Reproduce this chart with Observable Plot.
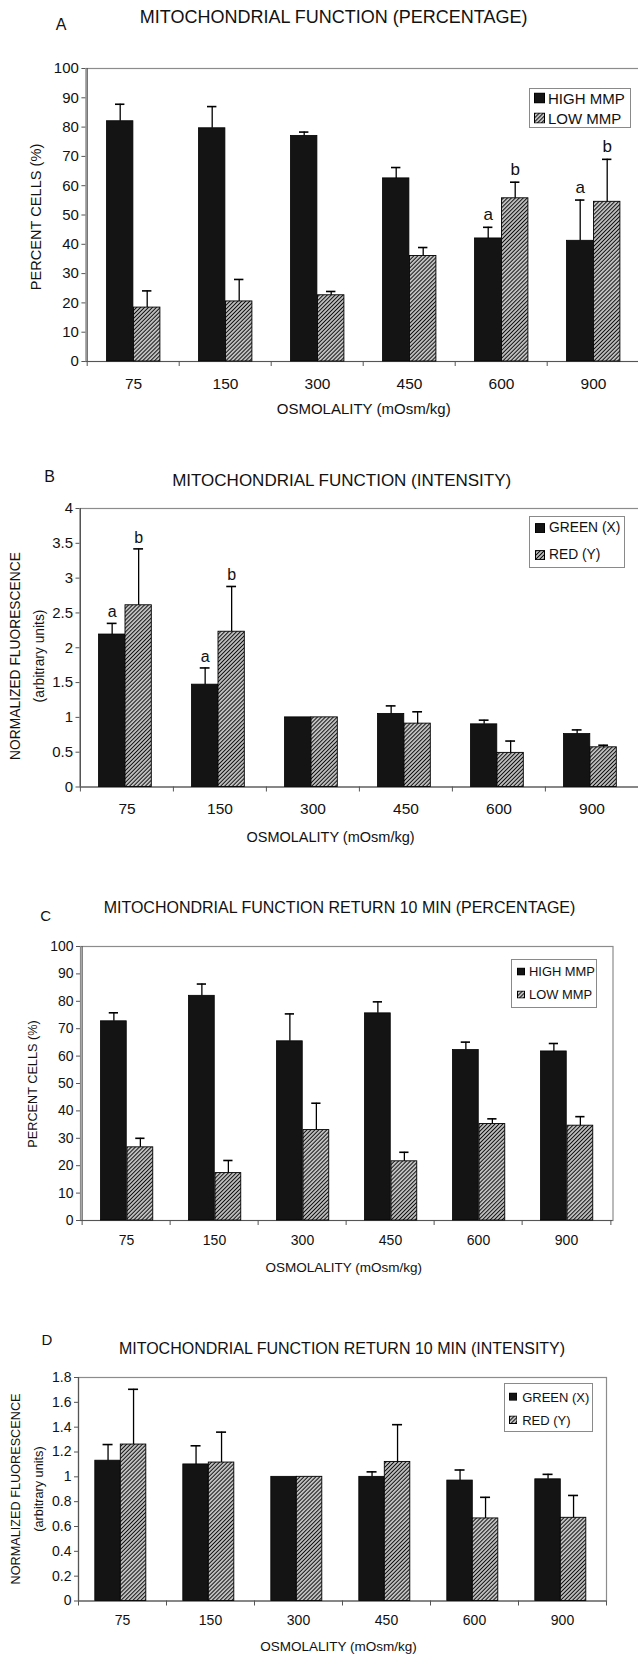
<!DOCTYPE html>
<html><head><meta charset="utf-8">
<script src="https://cdn.jsdelivr.net/npm/d3@7"></script>
<script src="https://cdn.jsdelivr.net/npm/@observablehq/plot@0.6"></script>
<style>
html,body{margin:0;padding:0;background:#fff;}
#page{position:relative;width:638px;height:1654px;overflow:hidden;background:#fff;font-family:"Liberation Sans",Arial,sans-serif;color:#111;}
.t{position:absolute;white-space:nowrap;line-height:1;transform:translate(-50%,-50%);}
.yt{position:absolute;white-space:nowrap;line-height:1;transform:translate(-50%,-50%) rotate(-90deg);}
.legend{position:absolute;border:1px solid #8a8a8a;background:#fff;box-sizing:border-box;}
.li{position:absolute;display:flex;align-items:center;white-space:nowrap;line-height:1;transform:translateY(-50%);}
.li svg{display:block;flex:none;}
</style></head><body>
<svg width="0" height="0" style="position:absolute">
  <defs>
    <pattern id="hatch" patternUnits="userSpaceOnUse" width="2.8" height="2.8" patternTransform="rotate(45)">
      <rect width="2.8" height="2.8" fill="#fff"/>
      <line x1="1.4" y1="0" x2="1.4" y2="2.8" stroke="#111" stroke-width="1.45"/>
    </pattern>
  </defs>
</svg>
<div id="page"></div>
<script>
// ---------- DATA ----------
const osmolality = ["75", "150", "300", "450", "600", "900"];

// Panel A: mitochondrial function (percentage)
const aHigh    = [82.0, 79.6, 77.0, 62.5, 42.0, 41.2];
const aHighErr = [87.8, 87.0, 78.3, 66.2, 45.8, 55.1];
const aLow     = [18.4, 20.5, 22.6, 36.0, 55.7, 54.5];
const aLowErr  = [24.1, 28.0, 23.9, 38.9, 61.2, 69.0];
const aHighSig = ["", "", "", "", "a", "a"];
const aLowSig  = ["", "", "", "", "b", "b"];

// Panel B: mitochondrial function (intensity)
const bGreen    = [2.19, 1.47, 1.00, 1.05, 0.90, 0.76];
const bGreenErr = [2.35, 1.71, null, 1.165, 0.96, 0.82];
const bRed      = [2.61, 2.23, 1.00, 0.91, 0.49, 0.57];
const bRedErr   = [3.42, 2.88, null, 1.08, 0.66, 0.60];
const bGreenSig = ["a", "a", "", "", "", ""];
const bRedSig   = ["b", "b", "", "", "", ""];

// Panel C: return 10 min (percentage)
const cHigh    = [72.7, 82.0, 65.4, 75.6, 62.2, 61.7];
const cHighErr = [75.8, 86.3, 75.4, 79.8, 65.1, 64.6];
const cLow     = [26.7, 17.3, 33.0, 21.6, 35.2, 34.6];
const cLowErr  = [30.0, 21.9, 42.8, 24.9, 37.1, 37.9];

// Panel D: return 10 min (intensity)
const dGreen    = [1.13, 1.10, 1.00, 1.00, 0.97, 0.98];
const dGreenErr = [1.26, 1.25, null, 1.04, 1.055, 1.02];
const dRed      = [1.26, 1.115, 1.00, 1.12, 0.665, 0.67];
const dRedErr   = [1.705, 1.36, null, 1.42, 0.835, 0.85];

const pctTicks = [0, 10, 20, 30, 40, 50, 60, 70, 80, 90, 100];
const bTicks   = [0, 0.5, 1, 1.5, 2, 2.5, 3, 3.5, 4];
const dTicks   = [0, 0.2, 0.4, 0.6, 0.8, 1, 1.2, 1.4, 1.6, 1.8];

const seriesPct = ["HIGH MMP", "LOW MMP"];
const seriesInt = ["GREEN (X)", "RED (Y)"];
const panelLetters = ["A", "B", "C", "D"];
const panelTitles = [
  "MITOCHONDRIAL FUNCTION (PERCENTAGE)",
  "MITOCHONDRIAL FUNCTION (INTENSITY)",
  "MITOCHONDRIAL FUNCTION RETURN 10 MIN (PERCENTAGE)",
  "MITOCHONDRIAL FUNCTION RETURN 10 MIN (INTENSITY)"
];
const xAxisTitle = "OSMOLALITY (mOsm/kg)";
const yTitlePct = ["PERCENT CELLS (%)"];
const yTitleInt = ["NORMALIZED FLUORESCENCE", "(arbitrary units)"];

// ---------- LAYOUT (positions / sizes) ----------
const layouts = [
  {left: 85.4, right: 641, top: 67.7, bottom: 360.7, off: 19.5, bw: 27,
   tickFont: 15, xFont: 15.5, xDy: 22.6, titleFont: 18, title: [333.6, 16.7], letter: [61, 25], letterFont: 16,
   xTitle: [363.7, 408.3], xTitleFont: 15, yTitle: {xs: [36], y: 216.5, font: 14.6},
   legend: {x0: 529, x1: 631, y0: 88, y1: 128, items: [97.5, 117.5], font: 15, sw: 11, swx: 5, gap: 3},
   sigDy: -13, sigFont: 17},
  {left: 79.5, right: 638.7, top: 507.5, bottom: 786, off: 18.5, bw: 26.5,
   tickFont: 15, xFont: 15.5, xDy: 21.7, titleFont: 17, title: [341.7, 480], letter: [49.5, 477], letterFont: 16,
   xTitle: [330.5, 837], xTitleFont: 14.5, yTitle: {xs: [16, 39.5], y: 656, font: 13.8},
   legend: {x0: 529, x1: 625, y0: 515.7, y1: 567.7, items: [528.3, 555], font: 13.8, sw: 10, swx: 6, gap: 4},
   sigDy: -11.5, sigFont: 16},
  {left: 80, right: 612.5, top: 946, bottom: 1220, off: 18.5, bw: 26.5,
   tickFont: 14, xFont: 14, xDy: 20, titleFont: 16, title: [339.5, 908.3], letter: [45.6, 915], letterFont: 15,
   xTitle: [343.8, 1268.3], xTitleFont: 13.5, yTitle: {xs: [33.4], y: 1084, font: 12.7},
   legend: {x0: 511, x1: 597, y0: 959, y1: 1008, items: [971.7, 995], font: 12.9, sw: 8, swx: 6, gap: 4},
   sigDy: -12, sigFont: 16},
  {left: 78, right: 606, top: 1376.5, bottom: 1600, off: 16.8, bw: 25.5,
   tickFont: 14, xFont: 14, xDy: 20, titleFont: 16, title: [342, 1349], letter: [46.8, 1339], letterFont: 15,
   xTitle: [338.5, 1646.7], xTitleFont: 13.5, yTitle: {xs: [16.3, 38.6], y: 1489, font: 12.7},
   legend: {x0: 503.7, x1: 593, y0: 1383.3, y1: 1431.7, items: [1396.7, 1420], font: 13, sw: 8.5, swx: 5, gap: 5},
   sigDy: -12, sigFont: 16}
];

const page = document.getElementById("page");
const FONT = "Liberation Sans, Arial, sans-serif";

function addText(cls, txt, x, y, size) {
  const d = document.createElement("div");
  d.className = cls;
  d.textContent = txt;
  d.style.left = x + "px";
  d.style.top = y + "px";
  d.style.fontSize = size + "px";
  page.appendChild(d);
  return d;
}

function rowsOf(v1, e1, v2, e2, s1, s2) {
  return osmolality.map((o, i) => ({
    osm: o, v1: v1[i], e1: e1[i], v2: v2[i], e2: e2[i],
    s1: s1 ? s1[i] : "", s2: s2 ? s2[i] : ""
  }));
}

function makePanel(k, cfg, rows, yMax, ticks, series, yTitleLines) {
  const mt = 14, mb = 70;
  const width = Math.max(638, Math.ceil(cfg.right + 2));
  const height = (cfg.bottom - cfg.top) + mt + mb;
  const step = (cfg.right - cfg.left) / osmolality.length;
  const c1 = cfg.off + cfg.bw / 2 - step / 2;      // centre offset, series 1
  const c2 = cfg.off + 1.5 * cfg.bw - step / 2;    // centre offset, series 2
  const cap = 5;
  const fmt = d => String(+(+d).toFixed(2));
  const err1 = rows.filter(d => d.e1 != null);
  const err2 = rows.filter(d => d.e2 != null);
  const sig1 = rows.filter(d => d.s1);
  const sig2 = rows.filter(d => d.s2);
  const last = [osmolality[osmolality.length - 1]];

  const svg = Plot.plot({
    width, height,
    marginLeft: cfg.left, marginRight: width - cfg.right, marginTop: mt, marginBottom: mb,
    x: {type: "band", domain: osmolality, padding: 0, axis: null},
    y: {domain: [0, yMax], axis: null},
    style: {fontFamily: FONT, color: "#111", background: "transparent", overflow: "visible"},
    marks: [
      Plot.frame({stroke: "#8c8c8c", strokeWidth: 1.2}),
      // x-axis boundary ticks
      Plot.ruleX(osmolality, {x: d => d, y1: 0, y2: 0, insetBottom: -5, dx: -step / 2, stroke: "#555"}),
      Plot.ruleX(last, {x: d => d, y1: 0, y2: 0, insetBottom: -5, dx: step / 2, stroke: "#555"}),
      Plot.ruleX([osmolality[0]], {x: d => d, dx: -step / 2, stroke: "#555", strokeWidth: 1.2}),
      Plot.ruleY([0], {stroke: "#555", strokeWidth: 1.2}),
      Plot.axisY({ticks, tickSize: 4, tickPadding: 3, fontSize: cfg.tickFont, tickFormat: fmt, label: null, color: "#111", stroke: "#555"}),
      // bars
      Plot.barY(rows, {x: "osm", y1: 0, y2: "v1", fill: "#141414", stroke: "#000", strokeWidth: 0.8,
        insetLeft: cfg.off, insetRight: step - cfg.off - cfg.bw}),
      Plot.barY(rows, {x: "osm", y1: 0, y2: "v2", fill: "url(#hatch)", stroke: "#000", strokeWidth: 0.9,
        insetLeft: cfg.off + cfg.bw, insetRight: step - cfg.off - 2 * cfg.bw}),
      // error bars (upper only)
      Plot.ruleX(err1, {x: "osm", y1: "v1", y2: "e1", dx: c1, stroke: "#000", strokeWidth: 1.3}),
      Plot.tickY(err1, {x: "osm", y: "e1", stroke: "#000", strokeWidth: 1.6,
        insetLeft: cfg.off + cfg.bw / 2 - cap, insetRight: step - cfg.off - cfg.bw / 2 - cap}),
      Plot.ruleX(err2, {x: "osm", y1: "v2", y2: "e2", dx: c2, stroke: "#000", strokeWidth: 1.3}),
      Plot.tickY(err2, {x: "osm", y: "e2", stroke: "#000", strokeWidth: 1.6,
        insetLeft: cfg.off + 1.5 * cfg.bw - cap, insetRight: step - cfg.off - 1.5 * cfg.bw - cap}),
      // significance letters
      Plot.text(sig1, {x: "osm", y: "e1", text: "s1", dx: c1, dy: cfg.sigDy, fontSize: cfg.sigFont, lineAnchor: "middle", fill: "#111"}),
      Plot.text(sig2, {x: "osm", y: "e2", text: "s2", dx: c2, dy: cfg.sigDy, fontSize: cfg.sigFont, lineAnchor: "middle", fill: "#111"}),
      // category labels
      Plot.text(osmolality, {x: d => d, frameAnchor: "bottom", dy: cfg.xDy, fontSize: cfg.xFont, lineAnchor: "middle", fill: "#111"})
    ]
  });
  svg.style.position = "absolute";
  svg.style.left = "0px";
  svg.style.top = (cfg.top - mt) + "px";
  svg.style.maxWidth = "none";
  svg.style.background = "transparent";
  page.appendChild(svg);

  // texts
  addText("t", panelTitles[k], cfg.title[0], cfg.title[1], cfg.titleFont);
  addText("t", panelLetters[k], cfg.letter[0], cfg.letter[1], cfg.letterFont);
  addText("t", xAxisTitle, cfg.xTitle[0], cfg.xTitle[1], cfg.xTitleFont);
  yTitleLines.forEach((line, j) => addText("yt", line, cfg.yTitle.xs[j], cfg.yTitle.y, cfg.yTitle.font));

  // legend
  const L = cfg.legend;
  const box = document.createElement("div");
  box.className = "legend";
  box.style.left = L.x0 + "px";
  box.style.top = L.y0 + "px";
  box.style.width = (L.x1 - L.x0) + "px";
  box.style.height = (L.y1 - L.y0) + "px";
  page.appendChild(box);
  const fills = ["#141414", "url(#hatch)"];
  series.forEach((name, j) => {
    const it = document.createElement("div");
    it.className = "li";
    it.style.left = (L.x0 + L.swx) + "px";
    it.style.top = L.items[j] + "px";
    it.style.fontSize = L.font + "px";
    it.style.gap = L.gap + "px";
    const ns = "http://www.w3.org/2000/svg";
    const s = document.createElementNS(ns, "svg");
    s.setAttribute("width", L.sw);
    s.setAttribute("height", L.sw);
    const r = document.createElementNS(ns, "rect");
    r.setAttribute("x", 0.5); r.setAttribute("y", 0.5);
    r.setAttribute("width", L.sw - 1); r.setAttribute("height", L.sw - 1);
    r.setAttribute("fill", fills[j]); r.setAttribute("stroke", "#000"); r.setAttribute("stroke-width", 1);
    s.appendChild(r);
    it.appendChild(s);
    const sp = document.createElement("span");
    sp.textContent = name;
    it.appendChild(sp);
    page.appendChild(it);
  });
}

makePanel(0, layouts[0], rowsOf(aHigh, aHighErr, aLow, aLowErr, aHighSig, aLowSig), 100, pctTicks, seriesPct, yTitlePct);
makePanel(1, layouts[1], rowsOf(bGreen, bGreenErr, bRed, bRedErr, bGreenSig, bRedSig), 4, bTicks, seriesInt, yTitleInt);
makePanel(2, layouts[2], rowsOf(cHigh, cHighErr, cLow, cLowErr), 100, pctTicks, seriesPct, yTitlePct);
makePanel(3, layouts[3], rowsOf(dGreen, dGreenErr, dRed, dRedErr), 1.8, dTicks, seriesInt, yTitleInt);
</script>
</body></html>
